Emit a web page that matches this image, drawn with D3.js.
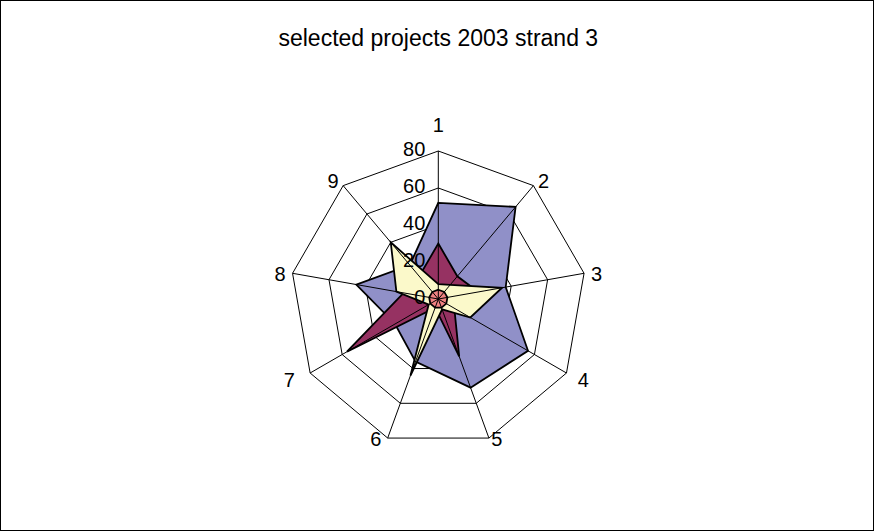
<!DOCTYPE html>
<html>
<head>
<meta charset="utf-8">
<script src="https://cdn.jsdelivr.net/npm/d3@7"></script>
<style>
  html, body { margin: 0; padding: 0; background: #fff; }
  svg { display: block; font-family: "Liberation Sans", Arial, sans-serif; }
</style>
</head>
<body>
<svg id="chart" width="875" height="532"></svg>
<script>
// Radar chart: selected projects 2003, strand 3
const categories = ["1", "2", "3", "4", "5", "6", "7", "8", "9"];
const tickValues = [0, 20, 40, 60, 80];
const seriesA = [52, 65, 37, 56, 51, 36, 27, 45, 24];
const seriesB = [30, 16, 22, 10, 33, 5, 57, 19, 16];
const seriesC = [8, 10, 35, 20, 6, 44, 6, 23, 40];
const seriesD = [5, 5, 5, 5, 5, 5, 5, 5, 5];
const seriesColors = ["#9090C8", "#963262", "#FBF9CA", "#F08282"];
const title = "selected projects 2003 strand 3";

const svg = d3.select("#chart");
const W = 875, H = 532;
const cx = 438.3, cy = 299, R = 148;

svg.append("rect")
  .attr("x", 0.5).attr("y", 0.5)
  .attr("width", W - 2).attr("height", H - 2)
  .attr("fill", "#fff").attr("stroke", "#000").attr("stroke-width", 1);

svg.append("text")
  .attr("x", cx).attr("y", 40)
  .attr("text-anchor", "middle")
  .attr("dominant-baseline", "middle")
  .attr("font-size", 23)
  .attr("fill", "#000")
  .text(title);

const r = d3.scaleLinear().domain([0, 80]).range([0, R]);
const angle = d3.scaleLinear().domain([0, categories.length]).range([0, 2 * Math.PI]);

const g = svg.append("g").attr("transform", `translate(${cx},${cy})`);

const radial = d3.lineRadial()
  .angle((d, i) => angle(i))
  .radius(d => r(d))
  .curve(d3.curveLinearClosed);

// concentric rings
g.append("g").selectAll("path")
  .data(tickValues.filter(t => t > 0))
  .join("path")
  .attr("d", t => radial(categories.map(() => t)))
  .attr("fill", "none")
  .attr("stroke", "#000")
  .attr("stroke-width", 1);

// series areas
const allSeries = [seriesA, seriesB, seriesC, seriesD];
g.append("g").selectAll("path")
  .data(allSeries)
  .join("path")
  .attr("d", d => radial(d))
  .attr("fill", (d, i) => seriesColors[i])
  .attr("stroke", "#000")
  .attr("stroke-width", 1.8)
  .attr("stroke-linejoin", "miter");

// spokes
g.append("g").selectAll("line")
  .data(categories)
  .join("line")
  .attr("x1", 0).attr("y1", 0)
  .attr("x2", (d, i) => r(80) * Math.sin(angle(i)))
  .attr("y2", (d, i) => -r(80) * Math.cos(angle(i)))
  .attr("stroke", "#000")
  .attr("stroke-width", 1);

// value labels along the first spoke
g.append("g").selectAll("text")
  .data(tickValues)
  .join("text")
  .attr("x", -13)
  .attr("y", t => -r(t))
  .attr("text-anchor", "end")
  .attr("dominant-baseline", "middle")
  .attr("font-size", 20)
  .attr("fill", "#000")
  .text(t => t);

// category labels just outside the outer ring
g.append("g").selectAll("text")
  .data(categories)
  .join("text")
  .each(function (d, i) {
    const a = angle(i);
    const s = Math.sin(a), c = Math.cos(a);
    const el = d3.select(this);
    if (i === 0) {
      el.attr("x", 0).attr("y", -R - 24)
        .attr("text-anchor", "middle")
        .attr("dominant-baseline", "middle");
    } else {
      const lower = c < -0.3 && c > -0.7;
      const rr = R + 7 + (lower ? 6 : 0);
      const dx = s < 0 && c < 0 ? -4 : 0;
      const dy = c < -0.7 ? -4 : (Math.abs(c) < 0.3 ? 4 : 2);
      el.attr("x", rr * s + dx).attr("y", -rr * c + dy)
        .attr("text-anchor", s > 0 ? "start" : "end")
        .attr("dominant-baseline", "middle");
    }
  })
  .attr("font-size", 20)
  .attr("fill", "#000")
  .text(d => d);
</script>
</body>
</html>
